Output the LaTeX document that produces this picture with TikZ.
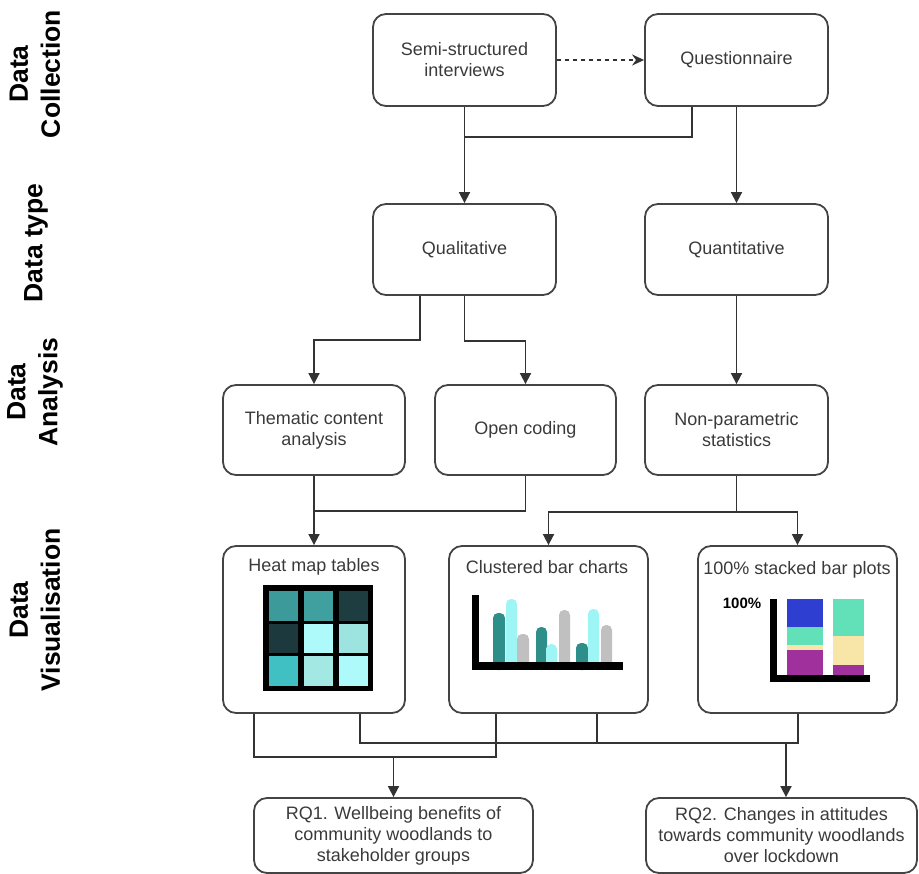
\documentclass[tikz,border=0pt]{standalone}
\usepackage{fontspec}
\setmainfont{Liberation Sans}
\usetikzlibrary{arrows.meta}
\definecolor{boxc}{HTML}{444444}
\definecolor{linec}{HTML}{333333}
\definecolor{txt}{HTML}{3A3A3A}
\definecolor{hA}{HTML}{3D9A9A}
\definecolor{hB}{HTML}{40A0A0}
\definecolor{hC}{HTML}{1E3D40}
\definecolor{hD}{HTML}{1C3A3D}
\definecolor{hE}{HTML}{AEF9F9}
\definecolor{hF}{HTML}{9DE3E0}
\definecolor{hG}{HTML}{40C0C2}
\definecolor{hH}{HTML}{A3E8E2}
\definecolor{bteal}{HTML}{2E8E8A}
\definecolor{bcyan}{HTML}{9EF5F5}
\definecolor{bgray}{HTML}{C0C0C0}
\definecolor{sblue}{HTML}{2E3ED0}
\definecolor{sgreen}{HTML}{62E0B8}
\definecolor{scream}{HTML}{F7E6A8}
\definecolor{spurple}{HTML}{A0309C}
\begin{document}
\begin{tikzpicture}[x=1pt,y=-1pt,
  box/.style={draw=boxc, line width=1.8pt, rounded corners=13pt, text=txt,
    font=\fontsize{18}{21}\selectfont, align=center, inner sep=0pt},
  vtitle/.style={text=txt, font=\fontsize{18}{21}\selectfont, inner sep=0pt},
  conn/.style={draw=linec, line width=1.7pt},
  arr/.style={conn, -{Triangle[length=11pt,width=11pt]}},
  lab/.style={rotate=90, font=\bfseries\fontsize{26.5}{32}\selectfont, align=center, text=black}]
\useasboundingbox (0,0) rectangle (919,874);

% side labels
\node[lab] (l1) at (35,74) {Data\\Collection};
\node[lab] (l2) at (36,243) {Data type};
\node[lab] (l3) at (35,392) {Data\\Analysis};
\node[lab] (l4) at (35,610) {Data\\Visualisation};

% boxes
\node[box, minimum width=183pt, minimum height=92pt] (semi) at (464.5,60) {Semi-structured\\interviews};
\node[box, minimum width=183pt, minimum height=92pt] (quest) at (736.5,60) {Questionnaire};
\node[box, minimum width=183pt, minimum height=91pt] (qual) at (464.5,249.5) {Qualitative};
\node[box, minimum width=183pt, minimum height=91pt] (quant) at (736.5,249.5) {Quantitative};
\node[box, minimum width=182pt, minimum height=90pt] (them) at (314,430) {Thematic content\\analysis};
\node[box, minimum width=181pt, minimum height=90pt] (open) at (525.5,430) {Open coding};
\node[box, minimum width=183pt, minimum height=90pt] (nonp) at (736.5,430) {Non-parametric\\statistics};
\node[box, minimum width=182pt, minimum height=167pt] (heat) at (314,629.5) {};
\node[box, minimum width=199pt, minimum height=167pt] (clus) at (548.5,629.5) {};
\node[box, minimum width=199pt, minimum height=167pt] (stack) at (797.5,629.5) {};
\node[box, minimum width=279pt, minimum height=75pt] (rq1) at (393.5,835.5) {RQ1. Wellbeing benefits of\\community woodlands to\\stakeholder groups};
\node[box, minimum width=271pt, minimum height=75pt] (rq2) at (781.5,835.5) {RQ2. Changes in attitudes\\towards community woodlands\\over lockdown};

% titles of visualisation boxes
\node[vtitle] (heatt) at (314,567) {Heat map tables};
\node[vtitle] (clust) at (547,567) {Clustered bar charts};
\node[vtitle] (stackt) at (797,570) {100\% stacked bar plots};

% heat map picture
\fill[black] (263,585) rectangle (373,691);
\fill[hA] (269,591) rectangle (298,621);
\fill[hB] (304,591) rectangle (333,621);
\fill[hC] (339,591) rectangle (368,621);
\fill[hD] (269,624) rectangle (298,653);
\fill[hE] (304,624) rectangle (333,653);
\fill[hF] (339,624) rectangle (368,653);
\fill[hG] (269,656) rectangle (298,686);
\fill[hH] (304,656) rectangle (333,686);
\fill[hE] (339,656) rectangle (368,686);

% clustered bar chart
\begin{scope}[rounded corners=5pt]
\fill[bteal] (493,613) rectangle (505,670);
\fill[bcyan] (506,599) rectangle (517,670);
\fill[bgray] (517,634) rectangle (529,670);
\fill[bteal] (536,627) rectangle (547,670);
\fill[bcyan] (546,644) rectangle (557,670);
\fill[bgray] (559,610) rectangle (570,670);
\fill[bteal] (576,643) rectangle (588,670);
\fill[bcyan] (588,609) rectangle (599,670);
\fill[bgray] (601,625) rectangle (612,670);
\end{scope}
\fill[black] (472,595) rectangle (479,670);
\fill[black] (472,662) rectangle (623,670);

% stacked bar plot
\node[font=\bfseries\fontsize{15}{18}\selectfont, inner sep=0pt] (pct) at (742,603) {100\%};
\fill[sblue] (787,599) rectangle (823,627);
\fill[sgreen] (787,627) rectangle (823,645);
\fill[scream] (787,645) rectangle (823,650);
\fill[spurple] (787,650) rectangle (823,676);
\fill[sgreen] (833,599) rectangle (864,636);
\fill[scream] (833,636) rectangle (864,665);
\fill[spurple] (833,665) rectangle (864,676);
\fill[black] (770,599) rectangle (777,682);
\fill[black] (770,675) rectangle (870,682);

% coordinates for connector corners
\coordinate (j1) at (464.5,137);
\coordinate (qx) at (692,106);
\coordinate (q1) at (420,340);
\coordinate (j2) at (314,511);
\coordinate (b1) at (254,757);
\coordinate (b2) at (496,757);
\coordinate (b3) at (360,743);
\coordinate (b4) at (798,743);
\coordinate (b5) at (597,743);
\coordinate (b6) at (786,743);

% connectors
\draw[conn, dash pattern=on 4pt off 4pt, -{Stealth[length=12pt,width=11pt]}] (semi.east) -- (quest.west);
\draw[arr] (semi.south) -- (qual.north);
\draw[conn] (quest.south -| qx) |- (j1);
\draw[arr] (quest.south) -- (quant.north);
\draw[arr] (q1 |- qual.south) -- (q1) -| (them.north);
\draw[arr] (qual.south) -- ++(0,45) -| (open.north);
\draw[arr] (quant.south) -- (nonp.north);
\draw[arr] (them.south) -- (heat.north);
\draw[conn] (open.south) |- (j2);
\draw[conn] (nonp.south) -- ++(0,36) coordinate (j3);
\draw[arr] (j3) -| (clus.north);
\draw[arr] (j3) -| (stack.north);
\draw[conn] (b1 |- heat.south) -- (b1) -- (b2) -- (b2 |- clus.south);
\draw[conn] (b3 |- heat.south) -- (b3) -- (b4) -- (b4 |- stack.south);
\draw[conn] (b5 |- clus.south) -- (b5);
\draw[arr] (rq1.north |- b1) -- (rq1.north);
\draw[arr] (b6) -- (b6 |- rq2.north);
\end{tikzpicture}
\end{document}
